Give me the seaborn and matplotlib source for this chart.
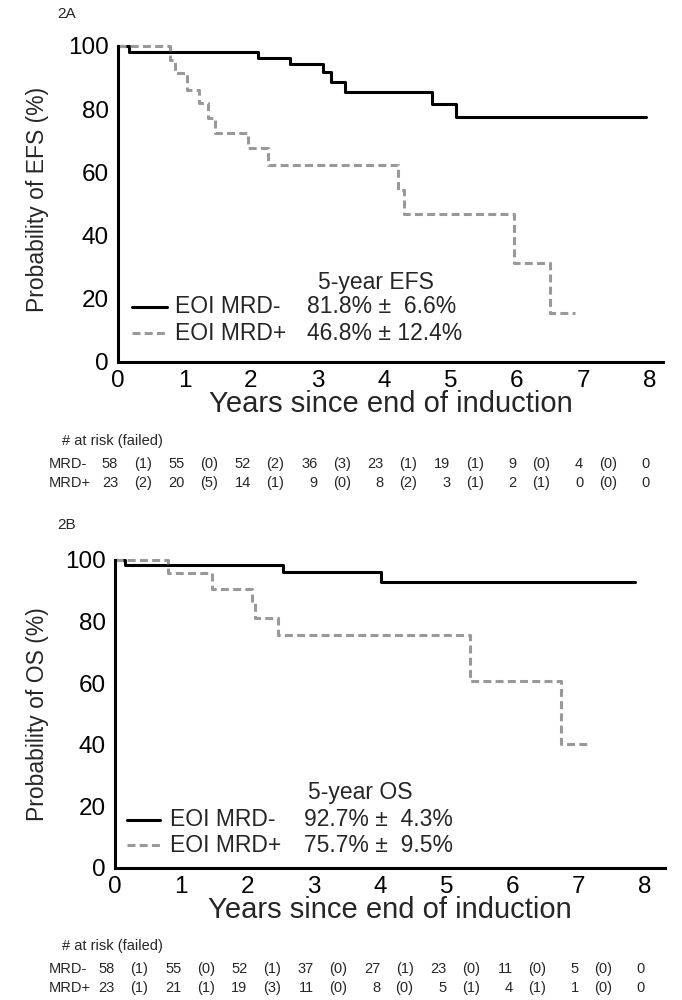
import numpy as np
import pandas as pd
import matplotlib
matplotlib.use("Agg")
import matplotlib.pyplot as plt
from matplotlib.lines import Line2D
from matplotlib.transforms import blended_transform_factory
import seaborn as sns

# ---------------- data ----------------
groups = ["MRD-", "MRD+"]

efs_neg_t = [0, 0.17, 2.11, 2.59, 3.09, 3.20, 3.41, 4.72, 5.09, 7.95]
efs_neg_s = [100, 98.2, 96.2, 94.3, 91.7, 88.7, 85.5, 81.8, 77.6, 77.6]
efs_pos_t = [0, 0.78, 0.86, 1.04, 1.22, 1.36, 1.46, 1.96, 2.26, 4.22, 4.30, 5.96, 6.50, 6.88]
efs_pos_s = [100, 95.7, 91.3, 86.1, 81.9, 77.1, 72.4, 67.6, 62.3, 54.5, 46.8, 31.2, 15.6, 15.6]

os_neg_t = [0, 0.15, 2.53, 4.02, 7.84]
os_neg_s = [100, 98.3, 96.2, 92.7, 92.7]
os_pos_t = [0, 0.80, 1.46, 2.06, 2.12, 2.46, 5.35, 6.73, 7.18]
os_pos_s = [100, 95.7, 90.6, 86.0, 81.3, 75.7, 60.6, 40.4, 40.4]

years = [0, 1, 2, 3, 4, 5, 6, 7, 8]
efs_neg_risk = [58, 55, 52, 36, 23, 19, 9, 4, 0]
efs_neg_fail = [1, 0, 2, 3, 1, 1, 0, 0]
efs_pos_risk = [23, 20, 14, 9, 8, 3, 2, 0, 0]
efs_pos_fail = [2, 5, 1, 0, 2, 1, 1, 0]
os_neg_risk = [58, 55, 52, 37, 27, 23, 11, 5, 0]
os_neg_fail = [1, 0, 1, 0, 1, 0, 0, 0]
os_pos_risk = [23, 21, 19, 11, 8, 5, 4, 1, 0]
os_pos_fail = [1, 1, 3, 0, 0, 1, 1, 0]

efs_legend = ["81.8% \u00b1  6.6%", "46.8% \u00b1 12.4%"]
os_legend = ["92.7% \u00b1  4.3%", "75.7% \u00b1  9.5%"]

# ---------------- style ----------------
sns.set_style("white")
plt.rcParams["font.family"] = ["Liberation Sans", "DejaVu Sans"]

W, H = 682, 1000
fig = plt.figure(figsize=(W / 100, H / 100), dpi=100)

def fx(px):
    return px / W

def fy(py):
    return 1 - py / H

palette = {"MRD-": "black", "MRD+": "#999999"}
dashes = {"MRD-": "", "MRD+": (2.6, 1.4)}
LW = 2.2
LEG_FS = 16.5


def make_df(t1, s1, t2, s2):
    return pd.concat([
        pd.DataFrame({"years": t1, "surv": s1, "group": "MRD-"}),
        pd.DataFrame({"years": t2, "surv": s2, "group": "MRD+"}),
    ], ignore_index=True)


def panel(rect, xmax, df, ylab, ylab_x, ylab_y):
    ax = fig.add_axes(rect)
    sns.lineplot(data=df, x="years", y="surv", hue="group", style="group",
                 hue_order=groups, style_order=groups,
                 palette=palette, dashes=dashes, drawstyle="steps-post",
                 estimator=None, sort=False, linewidth=LW, legend=False,
                 clip_on=False, ax=ax)
    ax.set_xlim(0, xmax)
    ax.set_ylim(0, 100)
    ax.set_xticks(years)
    ax.set_yticks([0, 20, 40, 60, 80, 100])
    for s in ["top", "right"]:
        ax.spines[s].set_visible(False)
    for s in ["left", "bottom"]:
        ax.spines[s].set_linewidth(LW)
        ax.spines[s].set_color("black")
    ax.tick_params(direction="out", length=4.5, width=LW, labelsize=17.5,
                   colors="black", pad=2)
    ax.tick_params(axis="x", pad=1)
    ax.set_xlabel("Years since end of induction", fontsize=21, labelpad=-1)
    ax.set_ylabel(ylab, fontsize=16.5)
    ax.yaxis.set_label_coords(ylab_x, ylab_y)
    return ax


ax1 = panel([fx(118), fy(362), fx(663) - fx(118), (362 - 46) / H], 8.2,
            make_df(efs_neg_t, efs_neg_s, efs_pos_t, efs_pos_s),
            "Probability of EFS (%)", (49 - 118) / 545, 0.515)
ax2 = panel([fx(115), fy(868), fx(665) - fx(115), (868 - 560) / H], 8.3,
            make_df(os_neg_t, os_neg_s, os_pos_t, os_pos_s),
            "Probability of OS (%)", (49 - 115) / 550, 0.5)


def legend(title, title_x, title_y, rows_y, line_x0, line_x1, text_x, pct_x, pcts):
    fig.text(fx(title_x), fy(title_y), title, fontsize=LEG_FS, ha="center", va="center")
    for g, y, pct in zip(groups, rows_y, pcts):
        ln = Line2D([fx(line_x0), fx(line_x1)], [fy(y), fy(y)], transform=fig.transFigure,
                    color=palette[g], linewidth=LW,
                    linestyle="-" if g == "MRD-" else (0, (2.6, 1.4)))
        fig.add_artist(ln)
        fig.text(fx(text_x), fy(y), "EOI " + g, fontsize=LEG_FS, ha="left", va="center")
        fig.text(fx(pct_x), fy(y), pct, fontsize=LEG_FS, ha="left", va="center")


legend("5-year EFS", 376, 283, [307, 333], 132, 167, 175, 307, efs_legend)
legend("5-year OS", 360, 792, [820, 845], 127, 160, 170, 304, os_legend)


def risk_table(ax, y_head, y_rows, risks, fails):
    tr = blended_transform_factory(ax.transData, fig.transFigure)
    fig.text(fx(62), fy(y_head), "# at risk (failed)", fontsize=10.5, ha="left", va="center")
    for g, y, r, f in zip(groups, y_rows, risks, fails):
        fig.text(fx(49), fy(y), g, fontsize=10.5, ha="left", va="center")
        for k, v in zip(years, r):
            ax.text(k, fy(y), str(v), transform=tr, fontsize=10.5, ha="right",
                    va="center", clip_on=False)
        for k, v in zip(years[:-1], f):
            ax.text(k + 0.37, fy(y), "(%d)" % v, transform=tr, fontsize=10.5,
                    ha="center", va="center", clip_on=False)


risk_table(ax1, 441, [464, 483], [efs_neg_risk, efs_pos_risk], [efs_neg_fail, efs_pos_fail])
risk_table(ax2, 946, [969, 988], [os_neg_risk, os_pos_risk], [os_neg_fail, os_pos_fail])

fig.text(fx(67), fy(14), "2A", fontsize=11, ha="center", va="center")
fig.text(fx(67), fy(525), "2B", fontsize=11, ha="center", va="center")

fig.savefig("out.png", dpi=100, facecolor="white")
